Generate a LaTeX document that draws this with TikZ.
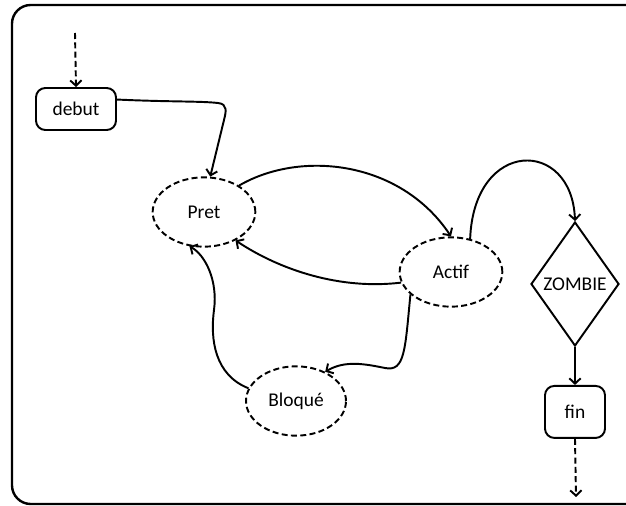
\documentclass[tikz,border=0pt]{standalone}
\usepackage{fontspec}
\setmainfont{Carlito}
\usetikzlibrary{shapes.geometric}
\usetikzlibrary{positioning}
\usetikzlibrary{arrows.meta}

\begin{document}
\begin{tikzpicture}[x=0.75pt, y=-0.75pt, line width=1.45pt,
    font=\fontsize{14.6}{17}\selectfont,
    >={Straight Barb[length=4pt, width=8.5pt]},
    etat/.style={ellipse, draw=black, dash pattern=on 4.5pt off 2.5pt, minimum width=77pt, minimum height=52pt, inner sep=0pt},
    bout/.style={rectangle, rounded corners=7pt, draw=black},
    fleche/.style={->},
    pointille/.style={->, dash pattern=on 4.5pt off 2.5pt}]
    \useasboundingbox (0,0) rectangle (626,506);
    \draw [line width=1.8pt, rounded corners=14pt] (640,5) -- (12,5) -- (12,504) -- (640,504);

    \node [bout, minimum width=60pt, minimum height=31.5pt] (debut) at (76,109) {debut};
    \node [etat] (pret) at (204,212) {Pret};
    \node [etat] (actif) at (451,272) {Actif};
    \node [etat, minimum width=75pt] (bloque) at (296,401) {Bloqué};
    \node [diamond, draw=black, aspect=0.71, minimum width=66pt, minimum height=93pt, inner sep=0pt] (zombie) at (575,284) {ZOMBIE};
    \node [bout, minimum width=45pt, minimum height=39pt, below=28.5pt of zombie] (fin) {fin};

    \coordinate (depart) at (75,33);
    \coordinate (sortie) at (576,497);

    \draw [pointille] (depart) -- (debut.north);
    \draw [fleche] (debut.13) .. controls (170,102) and (200,101) .. (218,103) .. controls (228,104) and (226,112) .. (224,120) -- (pret.80);
    \draw [fleche] (pret.37) .. controls (300,150) and (400,160) .. (actif.north);
    \draw [fleche] (actif.192) .. controls (340,290) and (280,270) .. (pret.318);
    \draw [fleche] (actif.209) .. controls (405,350) and (405,372) .. (385,368) .. controls (365,364) and (345,360) .. (bloque.45);
    \draw [fleche] (bloque.165) .. controls (215,375) and (210,340) .. (214,310) .. controls (218,280) and (205,255) .. (pret.247);
    \draw [fleche] (actif.60) .. controls (474,138) and (572,138) .. (zombie.north);
    \draw [fleche] (zombie.south) -- (fin.north);
    \draw [pointille] (fin.south) -- (sortie);
\end{tikzpicture}
\end{document}
